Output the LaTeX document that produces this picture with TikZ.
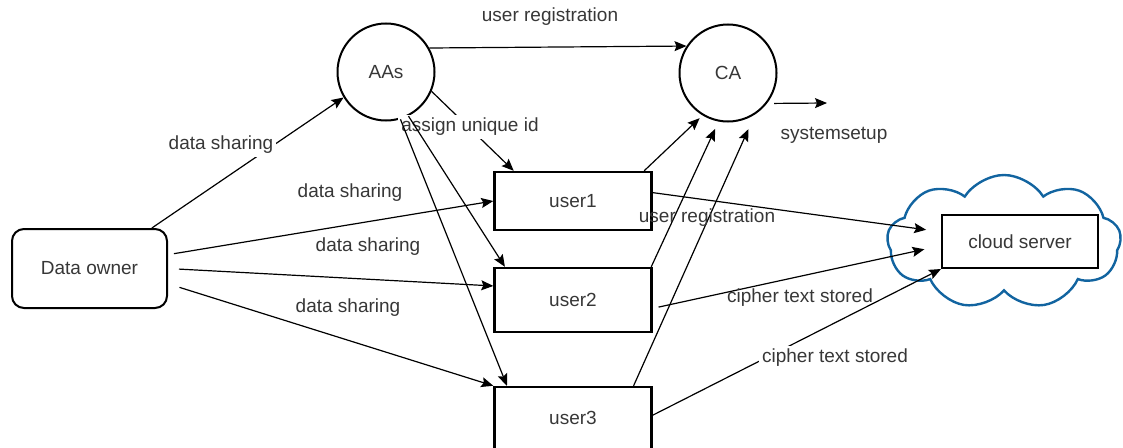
\documentclass[tikz,border=0pt]{standalone}
\usepackage{fontspec}
\setmainfont{Liberation Sans}
\usetikzlibrary{shapes.symbols,arrows.meta}
\definecolor{cloudblue}{RGB}{18,100,160}
\definecolor{txtgray}{RGB}{55,55,55}

\tikzset{
    every node/.style={font=\fontsize{19}{22}\selectfont,text=txtgray},
    entity/.style={draw,circle,line width=2pt,minimum size=97pt,inner sep=0pt},
    ownerbox/.style={draw,rounded corners=12pt,line width=2pt,minimum width=155pt,minimum height=79pt},
    userbox/.style={draw,line width=2.4pt,minimum width=157pt,minimum height=60pt,inner sep=0pt},
    flow/.style={-{Stealth[length=12pt,width=10pt,inset=2pt]},line width=1.2pt},
    lbl/.style={inner sep=2pt},
    lblw/.style={fill=white,inner sep=3pt},
}

\begin{document}
\begin{tikzpicture}[x=1pt,y=-1pt]
    \useasboundingbox (0,0) rectangle (1123,447);

    \node[ownerbox] (owner) at (89.5,268.5) {Data owner};
    \node[entity] (aas) at (386,72) {AAs};
    \node[entity] (ca) at (728,73) {CA};
    \node[userbox,minimum height=58pt] (u1) at (573,201) {user1};
    \node[userbox,minimum height=64pt] (u2) at (573,300) {user2};
    \node[userbox,minimum height=62pt] (u3) at (573,418) {user3};

    % cloud with the server inside
    \node[cloud,draw=cloudblue,line width=2.4pt,cloud puffs=9,cloud puff arc=115,
          aspect=1.75,minimum width=234pt,minimum height=134pt] (cloud) at (1004,242) {};
    \node[userbox,line width=2pt,minimum width=156pt,minimum height=53pt] (srv) at (1020,241.5) {cloud server};

    \coordinate (setup) at (827,103);

    % labels with white fill hide a piece of their own line
    \draw[flow] (owner.33) -- (aas.211);
    \node[lblw] (ds0) at (221,145) {data sharing};

    \draw[flow] (aas.-23) -- (u1.153);
    \node[lblw] (uid) at (470,127) {assign unique id};

    \draw[flow] (u3.2) -- (srv.south west);
    \node[lblw] (cts2) at (835,358) {cipher text stored};

    \draw[flow,shorten <=6pt] (owner.10) -- (u1.west);
    \draw[flow,shorten <=11pt] (owner.east) -- (u2.170);
    \draw[flow,shorten <=12pt] (owner.-11) -- (u3.north west);

    \draw[flow] (aas.29) -- (ca.147);
    \draw[flow] (aas.-63) -- (u2.154);
    \draw[flow] (aas.-73) -- (u3.154);

    \draw[flow,shorten >=4pt] (u1.23) -- (ca.239);
    \draw[flow,shorten >=8pt] (u2.23) -- (ca.259);
    \draw[flow,shorten >=16pt] (u3.28) -- (ca.303);
    \draw[flow,shorten <=7pt] (ca.-38) -- (setup);

    \draw[flow,shorten >=15pt] (u1.6) -- (srv.173);
    \draw[flow,shorten <=6pt,shorten >=17pt] (u2.-6.5) -- (srv.183);

    \node[lbl] (reg1) at (550,17) {user registration};
    \node[lbl] (sys) at (834,135) {systemsetup};
    \node[lbl] (ds1) at (350,193) {data sharing};
    \node[lbl] (ds2) at (368,247) {data sharing};
    \node[lbl] (ds3) at (348,308) {data sharing};
    \node[lbl] (reg2) at (707,218) {user registration};
    \node[lbl] (cts1) at (800,298) {cipher text stored};
\end{tikzpicture}
\end{document}
